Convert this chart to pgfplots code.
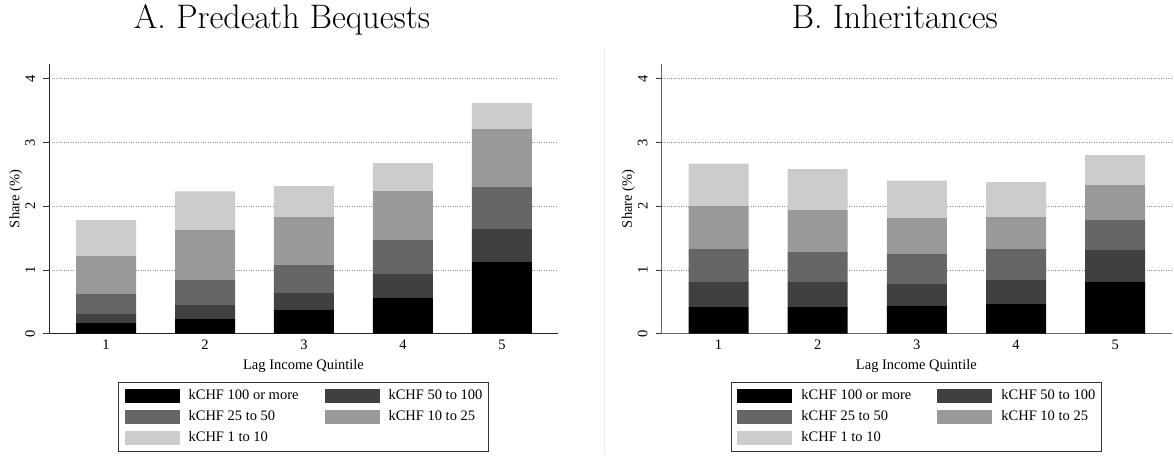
\documentclass[border=0pt]{standalone}
\usepackage{fontspec}
\usepackage{pgfplots}
\pgfplotsset{compat=1.18}
\usepackage{pgfplotstable}
\newfontfamily\timesfont{Liberation Serif}
\definecolor{cA}{HTML}{000000}
\definecolor{cB}{HTML}{404040}
\definecolor{cC}{HTML}{666666}
\definecolor{cD}{HTML}{999999}
\definecolor{cE}{HTML}{CCCCCC}

% segment sizes: a = 100 or more, b = 50 to 100, c = 25 to 50, d = 10 to 25, e = 1 to 10
\pgfplotstableread{
q a b c d e
1 0.167 0.142 0.313 0.596 0.565
2 0.230 0.220 0.392 0.784 0.607
3 0.371 0.267 0.439 0.753 0.486
4 0.559 0.377 0.533 0.769 0.439
5 1.124 0.518 0.659 0.909 0.408
}\tabA
\pgfplotstableread{
q a b c d e
1 0.418 0.392 0.518 0.675 0.664
2 0.418 0.392 0.471 0.659 0.643
3 0.434 0.345 0.471 0.564 0.586
4 0.465 0.377 0.486 0.502 0.549
5 0.810 0.502 0.471 0.549 0.471
}\tabB

\pgfplotsset{panel/.style={
  scale only axis, width=508.4pt, height=269.7pt, anchor=south west,
  xmin=0.427, xmax=5.563, ymin=0, ymax=4.231,
  ybar stacked, bar width=60pt,
  axis x line*=bottom, axis y line*=left,
  axis line style={-, line width=1pt},
  xtick={1,2,3,4,5}, ytick={0,1,2,3,4},
  tick align=outside, major tick length=6pt,
  xtick style={draw=none}, ytick style={line width=0.8pt, black!80},
  ymajorgrids, grid style={dotted, black!45, line width=0.8pt},
  /pgf/number format/assume math mode=true,
  tick label style={font=\timesfont\fontsize{14.5}{16}\selectfont, text=black},
  yticklabel style={rotate=90, anchor=south, inner sep=0pt},
  xticklabel style={inner sep=0pt},
  yticklabel shift=8pt,
  xticklabel shift=0pt,
  xlabel={Lag Income Quintile}, ylabel={Share (\%)},
  label style={font=\timesfont\fontsize{14.5}{16}\selectfont},
  xlabel style={at={(axis description cs:0.5,-0.1187)}, anchor=center},
  ylabel style={at={(axis description cs:-0.0655,0.5)}, anchor=center},
  title style={at={(axis description cs:0.4577,1.110)}, anchor=base, yshift=0pt, font=\fontsize{34}{40}\selectfont},
  legend columns=2,
  legend cell align=left,
  legend image code/.code={\fill[##1] (0pt,-7pt) rectangle (55pt,7pt);},
  legend style={at={(0.5,-0.179)}, anchor=north, draw=black!80, line width=0.8pt,
    inner xsep=6pt, inner ysep=7pt, row sep=6.7pt,
    font=\timesfont\fontsize{14.5}{16}\selectfont,
    nodes={inner sep=0pt, text height=10.5pt, text depth=3.5pt},
    /tikz/every odd column/.append style={column sep=9pt},
    /tikz/every even column/.append style={column sep=26pt}},
}}

\begin{document}
\begin{tikzpicture}
\useasboundingbox (0,0) rectangle (1174pt,455pt);
\draw[black!7, line width=0.8pt] (604.3pt,0pt) -- (604.3pt,407pt);

\begin{axis}[panel, at={(49.3pt,121.3pt)}, title={A. Predeath Bequests}, axis line style={black!85}]
\addplot[fill=cA, draw=none] table[x=q, y=a] {\tabA};
\addplot[fill=cB, draw=none] table[x=q, y=b] {\tabA};
\addplot[fill=cC, draw=none] table[x=q, y=c] {\tabA};
\addplot[fill=cD, draw=none] table[x=q, y=d] {\tabA};
\addplot[fill=cE, draw=none] table[x=q, y=e] {\tabA};
\legend{kCHF 100 or more, kCHF 50 to 100, kCHF 25 to 50, kCHF 10 to 25, kCHF 1 to 10}
\end{axis}

\begin{axis}[panel, at={(661.7pt,121.3pt)}, width=509.3pt, title={B. Inheritances}, axis line style={black!60}]
\addplot[fill=cA, draw=none] table[x=q, y=a] {\tabB};
\addplot[fill=cB, draw=none] table[x=q, y=b] {\tabB};
\addplot[fill=cC, draw=none] table[x=q, y=c] {\tabB};
\addplot[fill=cD, draw=none] table[x=q, y=d] {\tabB};
\addplot[fill=cE, draw=none] table[x=q, y=e] {\tabB};
\legend{kCHF 100 or more, kCHF 50 to 100, kCHF 25 to 50, kCHF 10 to 25, kCHF 1 to 10}
\end{axis}
\end{tikzpicture}
\end{document}
